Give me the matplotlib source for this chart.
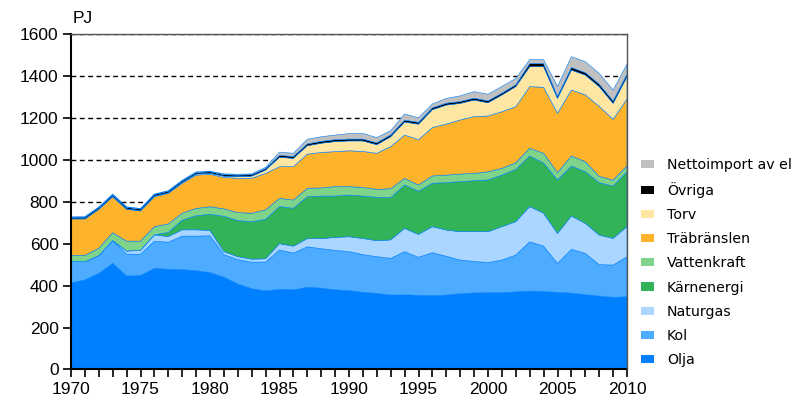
import matplotlib
matplotlib.use("Agg")
import matplotlib.pyplot as plt
from matplotlib.patches import Patch
from matplotlib.ticker import MultipleLocator

# Energiförbrukning i Finland 1970-2010, PJ
years = list(range(1970, 2011))

olja = [413, 427, 458, 506, 446, 448, 482, 478, 476, 471,
        462, 440, 408, 385, 375, 382, 380, 392, 388, 380,
        376, 368, 363, 355, 356, 354, 352, 355, 362, 365,
        366, 366, 370, 374, 372, 368, 364, 357, 350, 344, 347]
kol = [102, 87, 85, 109, 104, 102, 130, 129, 160, 165,
       176, 108, 116, 127, 137, 188, 175, 193, 188, 188,
       186, 180, 175, 175, 206, 181, 205, 185, 160, 150,
       144, 156, 176, 235, 216, 138, 209, 197, 150, 154, 191]
naturgas = [0, 0, 0, 0, 15, 18, 30, 27, 30, 30,
            25, 14, 14, 14, 16, 30, 33, 39, 48, 62,
            71, 77, 76, 88, 111, 109, 124, 125, 135, 142,
            147, 159, 159, 168, 157, 143, 159, 143, 141, 127, 143]
karnenergi = [0, 0, 0, 0, 0, 0, 0, 20, 46, 67,
              77, 169, 172, 179, 188, 177, 181, 200, 203, 197,
              199, 202, 207, 202, 207, 206, 207, 226, 239, 243,
              247, 246, 249, 241, 240, 255, 238, 246, 250, 250, 262]
vattenkraft = [29, 30, 35, 37, 47, 44, 39, 40, 33, 35,
               36, 35, 38, 40, 45, 39, 39, 40, 39, 45,
               40, 41, 38, 42, 31, 30, 35, 36, 36, 35,
               39, 32, 32, 37, 46, 35, 48, 48, 30, 28, 28]
trabranslen = [174, 174, 186, 172, 152, 144, 143, 146, 143, 159,
               155, 150, 164, 167, 174, 151, 159, 163, 169, 167,
               171, 172, 172, 201, 207, 216, 231, 243, 258, 271,
               266, 270, 267, 294, 315, 283, 315, 319, 334, 290, 319]
torv = [1, 1, 1, 2, 2, 2, 3, 3, 4, 5,
        5, 6, 8, 10, 16, 45, 40, 40, 44, 48,
        47, 50, 41, 47, 62, 74, 85, 91, 79, 79,
        63, 80, 96, 95, 98, 71, 95, 94, 94, 76, 106]
ovriga = [7, 7, 7, 7, 7, 7, 7, 7, 7, 7,
          7, 7, 7, 7, 7, 9, 9, 9, 9, 9,
          9, 9, 9, 9, 9, 9, 9, 9, 9, 9,
          9, 9, 9, 15, 15, 10, 12, 12, 12, 12, 12]
nettoimport = [2, 3, 3, 4, 3, 3, 3, 3, 4, 3,
               3, 4, 4, 4, 6, 16, 15, 22, 22, 22,
               26, 27, 25, 20, 30, 21, 18, 23, 27, 31,
               32, 32, 30, 19, 19, 47, 52, 52, 51, 52, 48]

labels = ["Olja", "Kol", "Naturgas", "Kärnenergi", "Vattenkraft",
          "Träbränslen", "Torv", "Övriga", "Nettoimport av el"]
colors = ["#0080ff", "#4dacff", "#aad6ff", "#33b357", "#7fd48a",
          "#fdb32b", "#ffe6a3", "#000000", "#c0c0c0"]
series = [olja, kol, naturgas, karnenergi, vattenkraft,
          trabranslen, torv, ovriga, nettoimport]

plt.rcParams["font.family"] = ["Liberation Sans", "DejaVu Sans"]

fig = plt.figure(figsize=(7.96, 4.01), dpi=100)
ax = fig.add_axes([0.0892, 0.0786, 0.6985, 0.8366])

ax.stackplot(years, *series, colors=colors, linewidth=0.4,
             edgecolors=colors, zorder=2)

ax.set_xlim(1970, 2010)
ax.set_ylim(0, 1600)
ax.yaxis.set_major_locator(MultipleLocator(200))
ax.xaxis.set_major_locator(MultipleLocator(5))
ax.xaxis.set_minor_locator(MultipleLocator(1))
ax.grid(axis="y", color="black", linestyle=(0, (3.5, 2.5)), linewidth=1.0, zorder=1)
ax.set_axisbelow(True)

ax.tick_params(axis="both", which="both", direction="out", length=6,
               width=1.2, color="black", labelsize=12.5, pad=3)
for side in ["left", "bottom"]:
    ax.spines[side].set_linewidth(1.5)
for side in ["top", "right"]:
    ax.spines[side].set_linewidth(1.0)
    ax.spines[side].set_color("#555555")
ax.spines["right"].set_zorder(5)

fig.text(0.091, 0.935, "PJ", fontsize=12.5, ha="left", va="bottom")

handles = [Patch(facecolor=c, edgecolor="none") for c in colors]
leg = fig.legend(handles[::-1], labels[::-1], loc="upper left",
                 bbox_to_anchor=(0.805, 0.607), frameon=False,
                 prop={"family": "DejaVu Sans", "size": 10.2},
                 handlelength=0.92, handleheight=0.5, handletextpad=0.92,
                 labelspacing=0.72, borderaxespad=0, borderpad=0)

fig.savefig("out.png", dpi=100)
